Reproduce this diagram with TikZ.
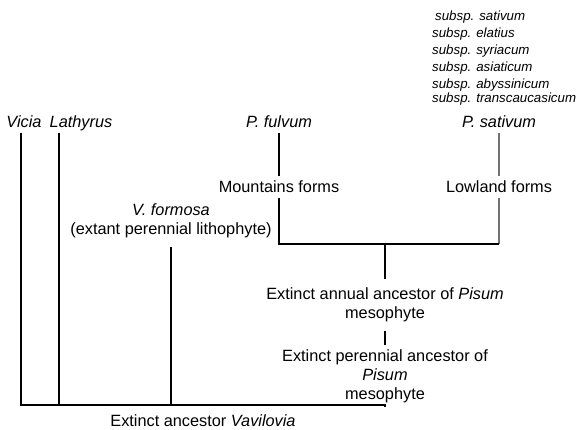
\documentclass[tikz,border=0pt]{standalone}
\usepackage{fontspec}
\setmainfont{Liberation Sans}
\usepackage{tikz}
\usetikzlibrary{positioning}
\tikzset{
    lbl/.style={
        font=\fontsize{16.3}{18.8}\selectfont,
        align=center, inner xsep=1pt, inner ysep=5pt
    },
    taxon/.style={
        lbl, font=\fontsize{16.3}{18.8}\selectfont\itshape,
        text height=11.5pt, text depth=3.5pt, inner ysep=2pt
    },
    subsplbl/.style={
        font=\fontsize{13.3}{15}\selectfont\itshape,
        anchor=west, inner sep=0pt
    },
    branch/.style={
        line width=1.4pt, black
    },
    faint/.style={
        line width=1.1pt, black!55
    }
}

\begin{document}
\begin{tikzpicture}[x=1pt, y=-1pt]
    \useasboundingbox (0,0) rectangle (576,429);

    \node[subsplbl] (ss1) at (435,17) {subsp. sativum};
    \node[subsplbl] (ss2) at (432,34) {subsp. elatius};
    \node[subsplbl] (ss3) at (432,51) {subsp. syriacum};
    \node[subsplbl] (ss4) at (432,68) {subsp. asiaticum};
    \node[subsplbl] (ss5) at (432,85) {subsp. abyssinicum};
    \node[subsplbl] (ss6) at (432,99) {subsp. transcaucasicum};

    \node[taxon] (vicia)    at (24,123)  {Vicia};
    \node[taxon] (lathyrus) at (81,123)  {Lathyrus};
    \node[taxon] (fulvum)   at (279,123) {P. fulvum};
    \node[taxon] (sativum)  at (499,123) {P. sativum};

    \node[lbl, below=64pt of fulvum.center, anchor=center] (mountains) {Mountains forms};
    \node[lbl, below=64pt of sativum.center, anchor=center] (lowland) {Lowland forms};

    \node[lbl, inner ysep=9pt] (formosa) at (171,221)
        {\textit{V. formosa}\\(extant perennial lithophyte)};

    \coordinate (join) at (385,244);
    \coordinate (root) at (385,405);

    \node[lbl, inner ysep=9pt] (annual) at (385,305)
        {Extinct annual ancestor of \textit{Pisum}\\mesophyte};
    \node[lbl, inner ysep=4pt] (perennial) at (385,376)
        {Extinct perennial ancestor of\\\textit{Pisum}\\mesophyte};

    \node[lbl] (vavilovia) at (203,421) {Extinct ancestor \textit{Vavilovia}};

    % upper clade
    \draw[branch] (fulvum) -- (mountains);
    \draw[faint] (sativum) -- (lowland);
    \draw[branch] (mountains) |- (join);
    \draw[faint] (lowland) -- (lowland |- join);
    \draw[branch] (join) -- (lowland |- join);
    \draw[branch] (join) -- (annual);
    \draw[branch] (annual) -- (perennial);

    % lower clade
    \draw[branch] ([xshift=-3pt]vicia.south) |- (root) -- (perennial);
    \draw[branch] ([xshift=-22pt]lathyrus.south) -- ([xshift=-22pt]lathyrus.south |- root);
    \draw[branch] (formosa) -- (formosa |- root);
\end{tikzpicture}
\end{document}
